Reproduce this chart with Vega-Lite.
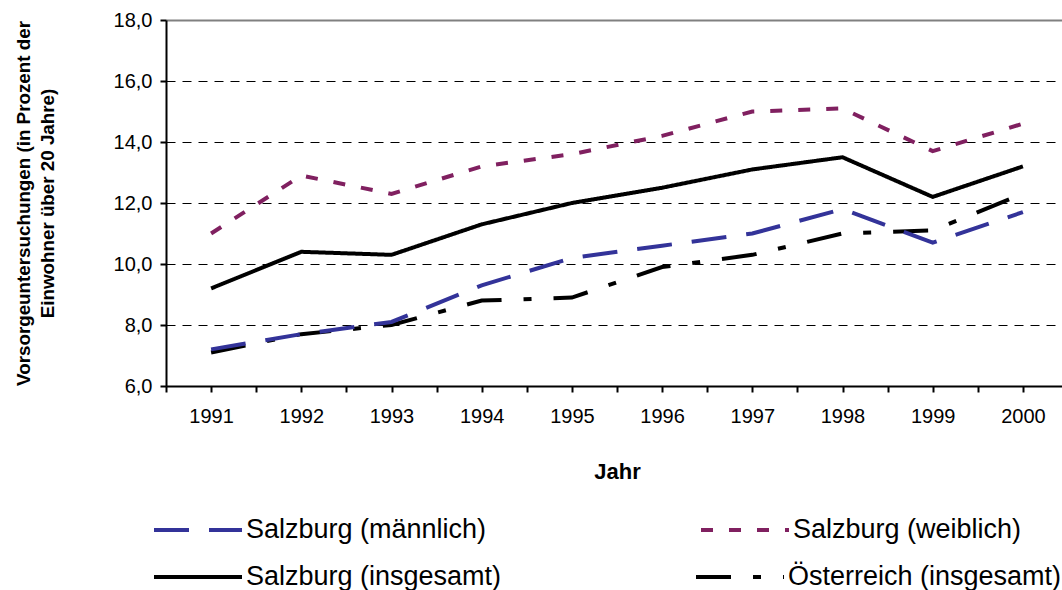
{
  "$schema": "https://vega.github.io/schema/vega-lite/v6.json",
  "width": 902,
  "height": 366,
  "autosize": {"type": "none"},
  "padding": {"left": 166, "top": 20, "right": 0, "bottom": 204},
  "background": "white",
  "config": {
    "font": "Liberation Sans",
    "view": {"stroke": null},
    "legend": {
      "title": null,
      "orient": "none",
      "direction": "horizontal",
      "columns": 2,
      "symbolType": "stroke",
      "symbolSize": 7744,
      "symbolStrokeWidth": 4,
      "labelFontSize": 27,
      "labelColor": "black",
      "labelFont": "Liberation Sans",
      "labelLimit": 500,
      "labelOffset": 2,
      "padding": 0
    }
  },
  "data": {
    "values": [
      {"Jahr": 1991, "Serie": "Salzburg (männlich)", "Wert": 7.2},
      {"Jahr": 1992, "Serie": "Salzburg (männlich)", "Wert": 7.7},
      {"Jahr": 1993, "Serie": "Salzburg (männlich)", "Wert": 8.1},
      {"Jahr": 1994, "Serie": "Salzburg (männlich)", "Wert": 9.3},
      {"Jahr": 1995, "Serie": "Salzburg (männlich)", "Wert": 10.2},
      {"Jahr": 1996, "Serie": "Salzburg (männlich)", "Wert": 10.6},
      {"Jahr": 1997, "Serie": "Salzburg (männlich)", "Wert": 11.0},
      {"Jahr": 1998, "Serie": "Salzburg (männlich)", "Wert": 11.8},
      {"Jahr": 1999, "Serie": "Salzburg (männlich)", "Wert": 10.7},
      {"Jahr": 2000, "Serie": "Salzburg (männlich)", "Wert": 11.7},
      {"Jahr": 1991, "Serie": "Salzburg (weiblich)", "Wert": 11.0},
      {"Jahr": 1992, "Serie": "Salzburg (weiblich)", "Wert": 12.9},
      {"Jahr": 1993, "Serie": "Salzburg (weiblich)", "Wert": 12.3},
      {"Jahr": 1994, "Serie": "Salzburg (weiblich)", "Wert": 13.2},
      {"Jahr": 1995, "Serie": "Salzburg (weiblich)", "Wert": 13.6},
      {"Jahr": 1996, "Serie": "Salzburg (weiblich)", "Wert": 14.2},
      {"Jahr": 1997, "Serie": "Salzburg (weiblich)", "Wert": 15.0},
      {"Jahr": 1998, "Serie": "Salzburg (weiblich)", "Wert": 15.1},
      {"Jahr": 1999, "Serie": "Salzburg (weiblich)", "Wert": 13.7},
      {"Jahr": 2000, "Serie": "Salzburg (weiblich)", "Wert": 14.6},
      {"Jahr": 1991, "Serie": "Salzburg (insgesamt)", "Wert": 9.2},
      {"Jahr": 1992, "Serie": "Salzburg (insgesamt)", "Wert": 10.4},
      {"Jahr": 1993, "Serie": "Salzburg (insgesamt)", "Wert": 10.3},
      {"Jahr": 1994, "Serie": "Salzburg (insgesamt)", "Wert": 11.3},
      {"Jahr": 1995, "Serie": "Salzburg (insgesamt)", "Wert": 12.0},
      {"Jahr": 1996, "Serie": "Salzburg (insgesamt)", "Wert": 12.5},
      {"Jahr": 1997, "Serie": "Salzburg (insgesamt)", "Wert": 13.1},
      {"Jahr": 1998, "Serie": "Salzburg (insgesamt)", "Wert": 13.5},
      {"Jahr": 1999, "Serie": "Salzburg (insgesamt)", "Wert": 12.2},
      {"Jahr": 2000, "Serie": "Salzburg (insgesamt)", "Wert": 13.2},
      {"Jahr": 1991, "Serie": "Österreich (insgesamt)", "Wert": 7.1},
      {"Jahr": 1992, "Serie": "Österreich (insgesamt)", "Wert": 7.7},
      {"Jahr": 1993, "Serie": "Österreich (insgesamt)", "Wert": 8.0},
      {"Jahr": 1994, "Serie": "Österreich (insgesamt)", "Wert": 8.8},
      {"Jahr": 1995, "Serie": "Österreich (insgesamt)", "Wert": 8.9},
      {"Jahr": 1996, "Serie": "Österreich (insgesamt)", "Wert": 9.9},
      {"Jahr": 1997, "Serie": "Österreich (insgesamt)", "Wert": 10.3},
      {"Jahr": 1998, "Serie": "Österreich (insgesamt)", "Wert": 11.0},
      {"Jahr": 1999, "Serie": "Österreich (insgesamt)", "Wert": 11.1},
      {"Jahr": 2000, "Serie": "Österreich (insgesamt)", "Wert": 12.3}
    ]
  },
  "encoding": {
    "x": {
      "field": "Jahr",
      "type": "quantitative",
      "scale": {"domain": [1990.5, 2000.5], "nice": false, "zero": false},
      "axis": {
        "title": "Jahr",
        "values": [1990.5, 1991, 1991.5, 1992, 1992.5, 1993, 1993.5, 1994, 1994.5, 1995, 1995.5, 1996, 1996.5, 1997, 1997.5, 1998, 1998.5, 1999, 1999.5, 2000, 2000.5],
        "labelExpr": "datum.value % 1 === 0 ? '' + datum.value : ''",
        "grid": false,
        "domainColor": "black",
        "domainWidth": 2,
        "tickColor": "black",
        "tickWidth": 2,
        "tickSize": 6,
        "labelFontSize": 20,
        "labelColor": "black",
        "labelPadding": 14,
        "labelOverlap": false,
        "labelFlush": false,
        "labelBound": false,
        "titleFontSize": 22,
        "titleFontWeight": "bold",
        "titleColor": "black",
        "titlePadding": 35
      }
    },
    "y": {
      "field": "Wert",
      "type": "quantitative",
      "scale": {"domain": [6, 18], "nice": false, "zero": false},
      "axis": {
        "title": ["Vorsorgeuntersuchungen (in Prozent der", "Einwohner über 20 Jahre)"],
        "values": [6, 8, 10, 12, 14, 16, 18],
        "labelExpr": "replace(format(datum.value, '.1f'), '.', ',')",
        "domainColor": "black",
        "domainWidth": 2,
        "tickColor": "black",
        "tickWidth": 2,
        "tickSize": 6,
        "labelFontSize": 20,
        "labelColor": "black",
        "labelPadding": 8,
        "grid": true,
        "gridColor": {"condition": {"test": "datum.value === 18", "value": "#808080"}, "value": "black"},
        "gridDash": {"condition": {"test": "datum.value === 18", "value": []}, "value": [9, 7]},
        "gridWidth": {"condition": {"test": "datum.value === 18", "value": 2}, "value": 1},
        "titleFontSize": 18.8,
        "titleFontWeight": "bold",
        "titleColor": "black",
        "titleLineHeight": 24,
        "titlePadding": 56
      }
    }
  },
  "layer": [
    {
      "transform": [{"filter": {"field": "Serie", "oneOf": ["Salzburg (insgesamt)", "Österreich (insgesamt)"]}}],
      "mark": {"type": "line", "strokeWidth": 4},
      "encoding": {
        "color": {
          "field": "Serie",
          "type": "nominal",
          "scale": {"domain": ["Salzburg (insgesamt)", "Österreich (insgesamt)"], "range": ["#000000", "#000000"]},
          "legend": {"title": null, "legendX": -14, "legendY": 511, "columnPadding": 186}
        },
        "strokeDash": {
          "field": "Serie",
          "type": "nominal",
          "scale": {"domain": ["Salzburg (insgesamt)", "Österreich (insgesamt)"], "range": [[1, 0], [35, 22, 8, 22]]},
          "legend": {"title": null, "legendX": -14, "legendY": 511, "columnPadding": 186}
        }
      }
    },
    {
      "transform": [{"filter": {"field": "Serie", "oneOf": ["Salzburg (männlich)", "Salzburg (weiblich)"]}}],
      "mark": {"type": "line", "strokeWidth": 4},
      "encoding": {
        "color": {
          "field": "Serie",
          "type": "nominal",
          "scale": {"domain": ["Salzburg (männlich)", "Salzburg (weiblich)"], "range": ["#333399", "#802060"]},
          "legend": {"title": null, "legendX": -14, "legendY": 464, "columnPadding": 206}
        },
        "strokeDash": {
          "field": "Serie",
          "type": "nominal",
          "scale": {"domain": ["Salzburg (männlich)", "Salzburg (weiblich)"], "range": [[35, 20], [12, 16]]},
          "legend": {"title": null, "legendX": -14, "legendY": 464, "columnPadding": 206}
        }
      }
    }
  ],
  "resolve": {"scale": {"color": "independent", "strokeDash": "independent"}}
}
